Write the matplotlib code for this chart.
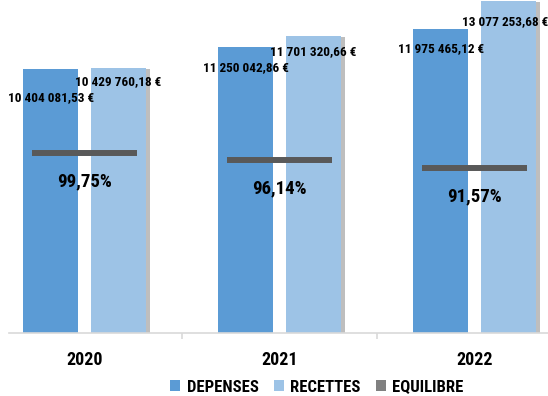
import matplotlib

matplotlib.use("Agg")
import matplotlib.pyplot as plt
import matplotlib.patheffects as pe
from matplotlib import font_manager
from matplotlib.patches import Patch

# Data
years = ["2020", "2021", "2022"]
depenses = [10404081.53, 11250042.86, 11975465.12]
recettes = [10429760.18, 11701320.66, 13077253.68]
equilibre = [99.75, 96.14, 91.57]

depenses_labels = ["10 404 081,53 €", "11 250 042,86 €", "11 975 465,12 €"]
recettes_labels = ["10 429 760,18 €", "11 701 320,66 €", "13 077 253,68 €"]
equilibre_labels = ["99,75%", "96,14%", "91,57%"]

# label drop below bar top (pixels), hand placed in the original
dep_drop = [29, 21, 20]
rec_drop = [14, 16, 21]
rec_shift = [0, 0, -3]

COL_DEP = "#5B9BD5"
COL_REC = "#9DC3E6"
COL_EQ = "#595959"
COL_EQ_LEG = "#808080"
COL_AXIS = "#D9D9D9"

# pick a condensed font if one is installed
available = {f.name for f in font_manager.fontManager.ttflist}
FONT = "DejaVu Sans"
for name in ["Liberation Sans Narrow", "Roboto Condensed", "DejaVu Sans Condensed"]:
    if name in available:
        FONT = name
        break
plt.rcParams["font.family"] = [FONT, "DejaVu Sans"]
plt.rcParams["font.weight"] = "bold"

W, H = 548, 396
fig = plt.figure(figsize=(W / 100, H / 100), dpi=100)
ax = fig.add_axes([9 / W, 63 / H, 1 - 9 / W, 1 - 63 / H])

x = list(range(len(years)))
offset = 0.174
width = 0.282

ax.bar([i - offset for i in x], depenses, width=width, color=COL_DEP, zorder=2)
shadow = [pe.SimplePatchShadow(offset=(3, -1), shadow_rgbFace="#7f7f7f", alpha=0.5), pe.Normal()]
rec_bars = ax.bar([i + offset for i in x], recettes, width=width, color=COL_REC, zorder=2)
for b in rec_bars:
    b.set_path_effects(shadow)

ax.set_xlim((9 - 84.5) / 195, (548 - 84.5) / 195)
ax.set_ylim(0, 13.1e6)

for i in x:
    ax.annotate(depenses_labels[i], (i - offset, depenses[i]), xytext=(0, -dep_drop[i]),
                textcoords="offset pixels", ha="center", va="center", fontsize=9.5, zorder=5)
    ax.annotate(recettes_labels[i], (i + offset, recettes[i]), xytext=(rec_shift[i], -rec_drop[i]),
                textcoords="offset pixels", ha="center", va="center", fontsize=9.5, zorder=5)

for side in ["top", "right", "left"]:
    ax.spines[side].set_visible(False)
ax.spines["bottom"].set_color(COL_AXIS)
ax.spines["bottom"].set_linewidth(1.2)
ax.set_yticks([])
ax.set_xticks(x)
ax.set_xticklabels(years, fontsize=13)
ax.tick_params(axis="x", which="major", length=0, pad=13)
ax.set_xticks([0.5, 1.5], minor=True)
ax.tick_params(axis="x", which="minor", length=4.3, color=COL_AXIS, width=1.2)

# equilibre ratio on a secondary scale
ax2 = ax.twinx()
ax2.set_ylim(0, 185)
ax2.axis("off")
ax2.hlines(equilibre, [i - 0.27 for i in x], [i + 0.27 for i in x], colors=COL_EQ, linewidth=4.3, zorder=3)
for i in x:
    ax2.annotate(equilibre_labels[i], (i, equilibre[i]), xytext=(0, -28), textcoords="offset pixels",
                 ha="center", va="center", fontsize=13.5)

handles = [
    Patch(facecolor=COL_DEP, label="DEPENSES"),
    Patch(facecolor=COL_REC, label="RECETTES"),
    Patch(facecolor=COL_EQ_LEG, label="EQUILIBRE"),
]
fig.legend(handles=handles, loc="center", bbox_to_anchor=(317 / W, 1 - 387 / H), ncol=3,
           frameon=False, fontsize=12, handlelength=0.6, handleheight=0.6,
           handletextpad=0.4, columnspacing=0.9, borderaxespad=0)

fig.savefig("out.png", dpi=100)
